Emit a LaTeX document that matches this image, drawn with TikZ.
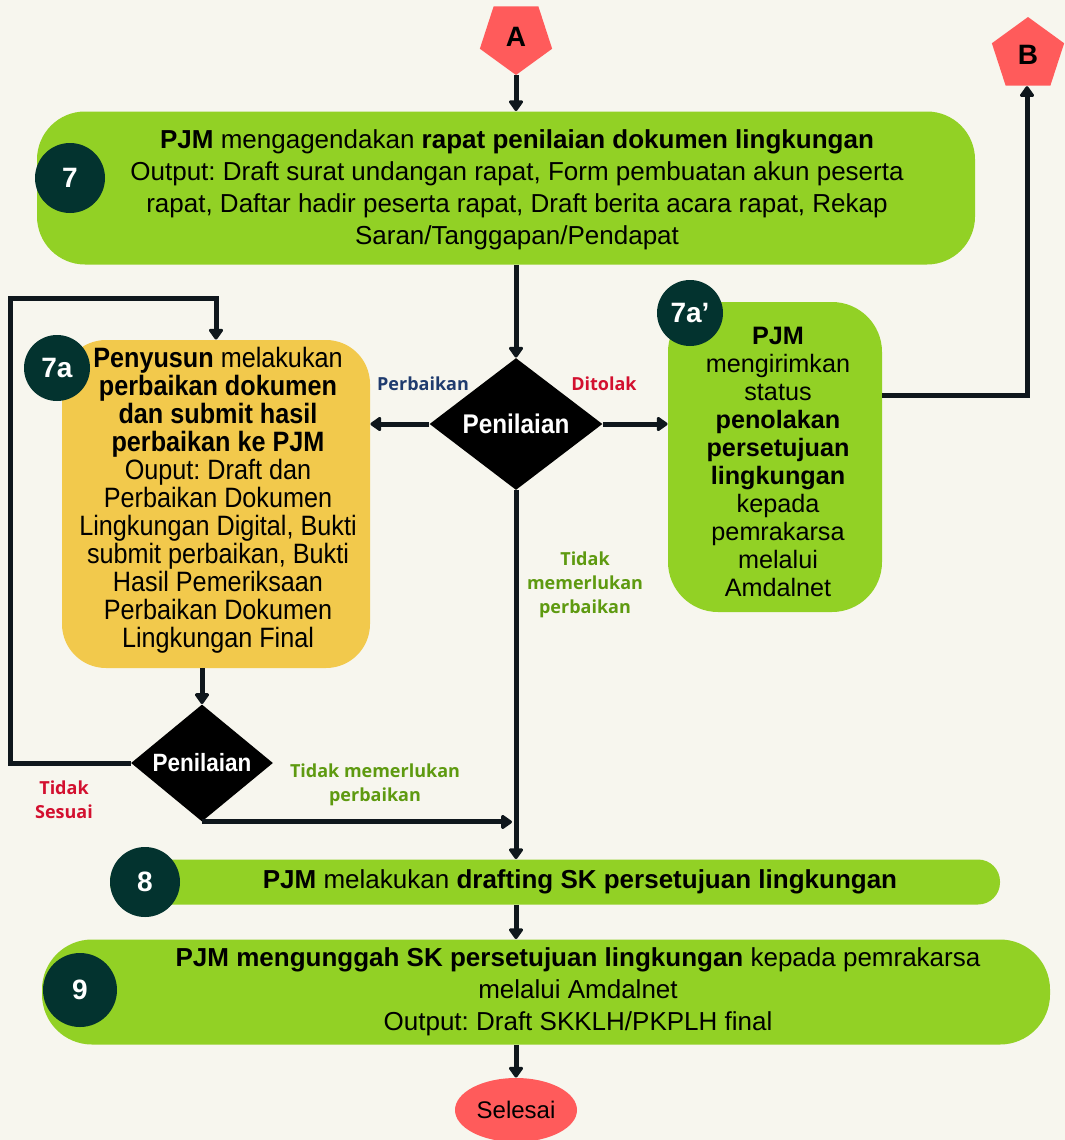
\documentclass[tikz,border=0pt]{standalone}
\usepackage{fontspec}
\setmainfont{Liberation Sans}
\newfontfamily\lblfont{Open Sans}
\newfontfamily\narrowfont[FakeStretch=0.9]{Liberation Sans}
\usetikzlibrary{shapes.geometric,arrows.meta,positioning}
\definecolor{bgcream}{HTML}{F7F6EE}
\definecolor{leafgreen}{HTML}{92D125}
\definecolor{mustard}{HTML}{F2C94C}
\definecolor{darkteal}{HTML}{03332F}
\definecolor{coral}{HTML}{FF5B5B}
\definecolor{inkline}{HTML}{0F171C}
\definecolor{navylbl}{HTML}{1F3B6E}
\definecolor{crimsonlbl}{HTML}{D3102F}
\definecolor{olivelbl}{HTML}{5E9A10}
\frenchspacing

\tikzset{
  stepbox/.style={rounded corners=22pt, fill=leafgreen, inner sep=0pt},
  steptext/.style={align=center, inner sep=0pt, font=\fontsize{13}{16}\selectfont},
  numdot/.style={circle, fill=darkteal, text=white, inner sep=0pt,
    minimum size=35pt, font=\bfseries\fontsize{14}{14}\selectfont},
  decide/.style={diamond, fill=black, text=white, inner sep=0pt},
  connector/.style={regular polygon, regular polygon sides=5, fill=coral,
    inner sep=0pt, minimum size=38pt, font=\bfseries\fontsize{14}{14}\selectfont},
  flow/.style={draw=inkline, line width=2.5pt,
    -{Triangle[width=8pt,length=6pt,round]}},
  branch/.style={align=center, inner sep=0pt,
    font=\lblfont\bfseries\fontsize{9}{12}\selectfont}
}

\begin{document}
\begin{tikzpicture}[x=0.5pt, y=-0.5pt]
  \path[use as bounding box, fill=bgcream] (0,0) rectangle (1065,1140);

  % connectors A and B
  \node[connector, shape border rotate=180] (A) at (516,37) {A};
  \node[connector] (B) at (1028,55) {B};

  % step 7
  \node[stepbox, rounded corners=24pt, minimum width=469pt, minimum height=76.5pt] (b7) at (506,188) {};
  \node[steptext] (t7) at (517,190)
    {\textbf{PJM} mengagendakan \textbf{rapat penilaian dokumen lingkungan}\\
     Output: Draft surat undangan rapat, Form pembuatan akun peserta\\
     rapat, Daftar hadir peserta rapat, Draft berita acara rapat, Rekap\\
     Saran/Tanggapan/Pendapat};
  \node[numdot] (n7) at (70,178) {7};

  % decision
  \node[decide, minimum width=86.5pt, minimum height=66pt,
    font=\narrowfont\bfseries\fontsize{13.5}{13.5}\selectfont] (d1) at (516,424) {Penilaian};

  % step 7a
  \node[stepbox, fill=mustard, minimum width=154pt, minimum height=164pt] (b7a) at (216,504) {};
  \node[steptext, font=\narrowfont\fontsize{14}{14}\selectfont] (t7a) at (218,500)
    {\textbf{Penyusun} melakukan\\
     \textbf{perbaikan dokumen}\\
     \textbf{dan submit hasil}\\
     \textbf{perbaikan ke PJM}\\
     Ouput: Draft dan\\
     Perbaikan Dokumen\\
     Lingkungan Digital, Bukti\\
     submit perbaikan, Bukti\\
     Hasil Pemeriksaan\\
     Perbaikan Dokumen\\
     Lingkungan Final};
  \node[numdot, minimum size=33pt] (n7a) at (57,368) {7a};

  % step 7a'
  \node[stepbox, rounded corners=25pt, minimum width=107pt, minimum height=155pt] (b7ap) at (775,457) {};
  \node[steptext, font=\fontsize{12.6}{14}\selectfont] (t7ap) at (778,462)
    {\textbf{PJM}\\
     mengirimkan\\
     status\\
     \textbf{penolakan}\\
     \textbf{persetujuan}\\
     \textbf{lingkungan}\\
     kepada\\
     pemrakarsa\\
     melalui\\
     Amdalnet};
  \node[numdot, minimum size=33pt] (n7ap) at (690,313) {7a’};

  % second decision
  \node[decide, minimum width=71pt, minimum height=51.5pt,
    font=\narrowfont\bfseries\fontsize{12.5}{12.5}\selectfont] (d2) at (202,763) {Penilaian};

  % step 8
  \node[stepbox, rounded corners=11pt, minimum width=445pt, minimum height=22.5pt] (b8) at (555,882) {};
  \node[steptext] (t8) at (580,882)
    {\textbf{PJM} melakukan \textbf{drafting SK persetujuan lingkungan}};
  \node[numdot] (n8) at (145,882) {8};

  % step 9
  \node[stepbox, rounded corners=25pt, minimum width=504pt, minimum height=52.5pt] (b9) at (546,992) {};
  \node[steptext] (t9) at (578,992)
    {\textbf{PJM mengunggah SK persetujuan lingkungan} kepada pemrakarsa\\
     melalui Amdalnet\\
     Output: Draft SKKLH/PKPLH final};
  \node[numdot, minimum size=37pt] (n9) at (80,990) {9};

  \node[ellipse, fill=coral, inner sep=0pt, minimum width=61pt, minimum height=32pt,
    font=\fontsize{12}{12}\selectfont] (selesai) at (516,1110) {Selesai};

  % arrows
  \coordinate (kB) at (1027,395);
  \coordinate (loopL) at (10,298);
  \draw[flow] (A.south) -- (A.south |- b7.north);
  \draw[flow] (d1.north |- b7.south) -- (d1.north);
  \draw[flow] (d1.west) -- (d1.west -| b7a.east);
  \draw[flow] (d1.east) -- (d1.east -| b7ap.west);
  \draw[flow] (kB -| b7ap.east) -- (kB) -- (kB |- B.south);
  \draw[flow] (d1.south) -- (d1.south |- b8.north);
  \draw[flow] (d2.north |- b7a.south) -- (d2.north);
  \draw[flow] (d2.west) -| (loopL) -| (b7a.north);
  \draw[flow] (d2.south) -- ([xshift=-2pt]d2.south -| d1.south);
  \draw[flow] (d1.south |- b8.south) -- (d1.south |- b9.north);
  \draw[flow] (d1.south |- b9.south) -- (selesai.north);

  % branch labels
  \node[branch, text=navylbl] (lperb) at (423,384) {Perbaikan};
  \node[branch, text=crimsonlbl] (ltolak) at (604,384) {Ditolak};
  \node[branch, text=olivelbl] (lok1) at (585,585) {Tidak\\memerlukan\\perbaikan};
  \node[branch, text=olivelbl] (lok2) at (375,785) {Tidak memerlukan\\perbaikan};
  \node[branch, text=crimsonlbl] (lsesuai) at (64,800) {Tidak\\Sesuai};
\end{tikzpicture}
\end{document}
